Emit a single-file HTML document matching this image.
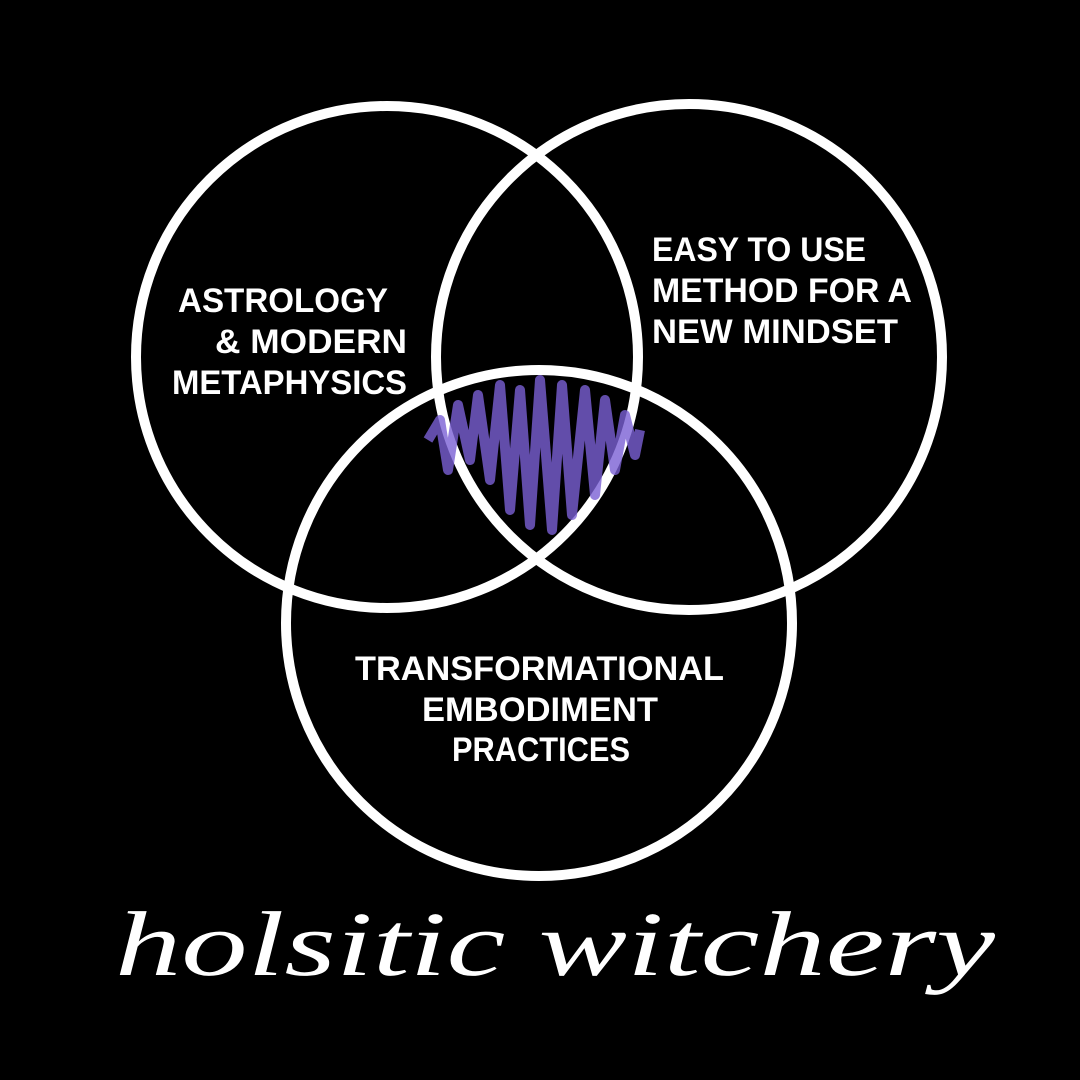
<!DOCTYPE html>
<html><head><style>html,body{margin:0;padding:0;background:#000;}svg{display:block}</style></head>
<body>
<svg width="1080" height="1080" viewBox="0 0 1080 1080" xmlns="http://www.w3.org/2000/svg">
<rect width="1080" height="1080" fill="#000"/>
<g fill="none" stroke="#fff" stroke-width="10">
<circle cx="387" cy="357" r="251"/>
<circle cx="689" cy="357" r="253"/>
<circle cx="539" cy="623" r="253"/>
</g>
<path d="M428,440 L440,420 L448,470 L458,405 L470,460 L478,395 L490,480 L500,385 L510,510 L520,390 L530,525 L540,380 L552,530 L562,385 L572,515 L585,390 L595,495 L605,400 L615,470 L625,415 L635,455 L640,430" fill="none" stroke="#7a60d4" stroke-width="10" stroke-linejoin="round" opacity="0.8"/>
<g fill="#fff" font-family="'Liberation Sans',sans-serif" font-weight="bold" font-size="34">
<text x="178" y="312" textLength="210" lengthAdjust="spacingAndGlyphs">ASTROLOGY</text>
<text x="215" y="353" textLength="192" lengthAdjust="spacingAndGlyphs">&amp; MODERN</text>
<text x="172" y="394" textLength="235" lengthAdjust="spacingAndGlyphs">METAPHYSICS</text>
<text x="652" y="261" textLength="214" lengthAdjust="spacingAndGlyphs">EASY TO USE</text>
<text x="652" y="302" textLength="260" lengthAdjust="spacingAndGlyphs">METHOD FOR A</text>
<text x="652" y="343" textLength="246" lengthAdjust="spacingAndGlyphs">NEW MINDSET</text>
<text x="355" y="680" textLength="369" lengthAdjust="spacingAndGlyphs">TRANSFORMATIONAL</text>
<text x="422" y="721" textLength="236" lengthAdjust="spacingAndGlyphs">EMBODIMENT</text>
<text x="452" y="761" textLength="178" lengthAdjust="spacingAndGlyphs">PRACTICES</text>
</g>
<text x="115" y="975" fill="#fff" font-family="'Liberation Serif',serif" font-style="italic" font-size="92" textLength="880" lengthAdjust="spacingAndGlyphs">holsitic witchery</text>
</svg>
</body></html>
